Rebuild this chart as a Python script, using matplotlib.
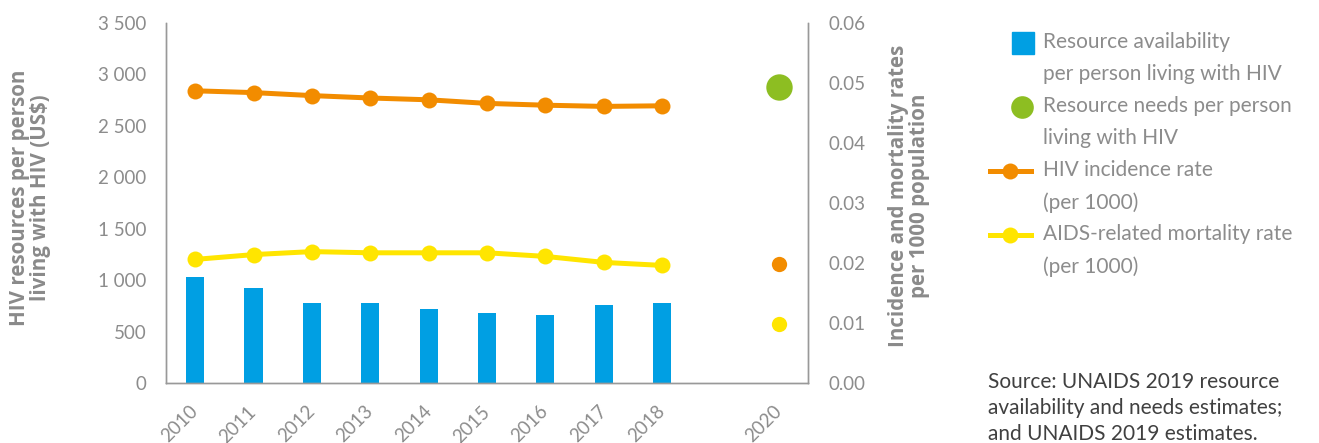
import matplotlib
matplotlib.use("Agg")
import matplotlib.pyplot as plt
from matplotlib.lines import Line2D
from matplotlib.patches import Rectangle
from matplotlib.transforms import ScaledTranslation

plt.rcParams['font.family'] = ['Lato', 'DejaVu Sans']

# ---- data ----
years = ['2010', '2011', '2012', '2013', '2014', '2015', '2016', '2017', '2018']
resource_availability = [1030, 925, 780, 775, 720, 680, 665, 755, 780]
incidence_rate = [0.0487, 0.0484, 0.0479, 0.0475, 0.0472, 0.0466, 0.0463, 0.0461, 0.0462]
mortality_rate = [0.0206, 0.0214, 0.0219, 0.0217, 0.0217, 0.0217, 0.0211, 0.0201, 0.0196]
target_year = '2020'
resource_needs_2020 = 2880
incidence_2020 = 0.0198
mortality_2020 = 0.0098

left_ticks = [0, 500, 1000, 1500, 2000, 2500, 3000, 3500]
right_ticks = [0.00, 0.01, 0.02, 0.03, 0.04, 0.05, 0.06]

# ---- colours ----
BLUE = '#009FE3'
GREEN = '#8DBE22'
ORANGE = '#F28C00'
YELLOW = '#FFE500'
TICK_GREY = '#8C8C8C'
LABEL_GREY = '#8A8A8A'
SPINE_GREY = '#999999'
TEXT_GREY = '#8C8C8C'
SOURCE_GREY = '#404040'

W, H = 1319, 443
fig = plt.figure(figsize=(W / 100, H / 100), dpi=100)
ax = fig.add_axes([166 / W, 1 - 383 / H, (808 - 166) / W, (383 - 23) / H])
ax2 = ax.twinx()

x = list(range(len(years)))
x_target = len(years) + 1  # one empty slot for 2019

# bars: resource availability
ax.bar(x, resource_availability, width=0.31, color=BLUE, zorder=2)
# resource needs 2020
ax.plot([x_target], [resource_needs_2020], 'o', color=GREEN, markersize=19,
        markeredgewidth=0, zorder=3)

ax.set_ylim(0, 3500)
ax.set_yticks(left_ticks)
ax.set_yticklabels([f"{v:,}".replace(',', ' ') for v in left_ticks])
ax.set_xlim(-0.5, x_target + 0.5)
ax.set_xticks(x + [x_target])
ax.set_xticklabels(years + [target_year], rotation=45, ha='right',
                   va='center', rotation_mode='anchor')
shift = ScaledTranslation(0.05, 0, fig.dpi_scale_trans)
for lab in ax.get_xticklabels():
    lab.set_transform(lab.get_transform() + shift)

# rates on the secondary axis
ax2.plot(x, incidence_rate, '-o', color=ORANGE, lw=3.6, markersize=11.5,
         markeredgewidth=0, zorder=3)
ax2.plot(x, mortality_rate, '-o', color=YELLOW, lw=3.6, markersize=11.5,
         markeredgewidth=0, zorder=3)
ax2.plot([x_target], [incidence_2020], 'o', color=ORANGE, markersize=11,
         markeredgewidth=0)
ax2.plot([x_target], [mortality_2020], 'o', color=YELLOW, markersize=11,
         markeredgewidth=0)
ax2.set_ylim(0, 0.06)
ax2.set_yticks(right_ticks)
ax2.set_yticklabels([f"{v:.2f}" for v in right_ticks])

for a in (ax, ax2):
    a.spines['top'].set_visible(False)
    for s in ('left', 'right', 'bottom'):
        a.spines[s].set_color(SPINE_GREY)
        a.spines[s].set_linewidth(1.0)
    a.tick_params(length=0, labelsize=13.5, labelcolor=TICK_GREY)
ax.tick_params(axis='y', pad=14)
ax2.tick_params(axis='y', pad=15)
ax.tick_params(axis='x', pad=18.5)

# axis titles
title_font = ['Open Sans', 'DejaVu Sans']
fig.text(30 / W, 1 - 198 / H, 'HIV resources per person\nliving with HIV (US$)',
         rotation=90, ha='center', va='center', fontsize=14.8, fontweight='bold',
         family=title_font, color=LABEL_GREY, linespacing=1.05)
fig.text(909 / W, 1 - 196 / H, 'Incidence and mortality rates\nper 1000 population',
         rotation=90, ha='center', va='center', fontsize=14.8, fontweight='bold',
         family=title_font, color=LABEL_GREY, linespacing=1.05)

# legend
legend_items = [
    ('bar', BLUE, 'Resource availability\nper person living with HIV'),
    ('dot', GREEN, 'Resource needs per person\nliving with HIV'),
    ('line', ORANGE, 'HIV incidence rate\n(per 1000)'),
    ('line', YELLOW, 'AIDS-related mortality rate\n(per 1000)'),
]
row_y = [43, 107, 171, 235]
for (kind, col, label), yy in zip(legend_items, row_y):
    fy = 1 - yy / H
    if kind == 'bar':
        fig.add_artist(Rectangle((1012 / W, 1 - (yy + 11) / H), 22 / W, 22 / H,
                                 transform=fig.transFigure, color=col))
    elif kind == 'dot':
        fig.add_artist(Line2D([1022 / W], [fy], marker='o', color=col,
                              markersize=16.3, markeredgewidth=0,
                              transform=fig.transFigure))
    else:
        fig.add_artist(Line2D([990 / W, 1031 / W], [fy, fy], color=col, lw=3.6,
                              transform=fig.transFigure))
        fig.add_artist(Line2D([1010 / W], [fy], marker='o', color=col,
                              markersize=11.5, markeredgewidth=0,
                              transform=fig.transFigure))
    fig.text(1043 / W, 1 - (yy - 11) / H, label, ha='left', va='top',
             fontsize=15, color=TEXT_GREY, linespacing=1.74)

fig.text(988 / W, 1 - 372 / H,
         'Source: UNAIDS 2019 resource\navailability and needs estimates;\nand UNAIDS 2019 estimates.',
         ha='left', va='top', fontsize=15, color=SOURCE_GREY, linespacing=1.38)

fig.savefig('out.png', dpi=100)
